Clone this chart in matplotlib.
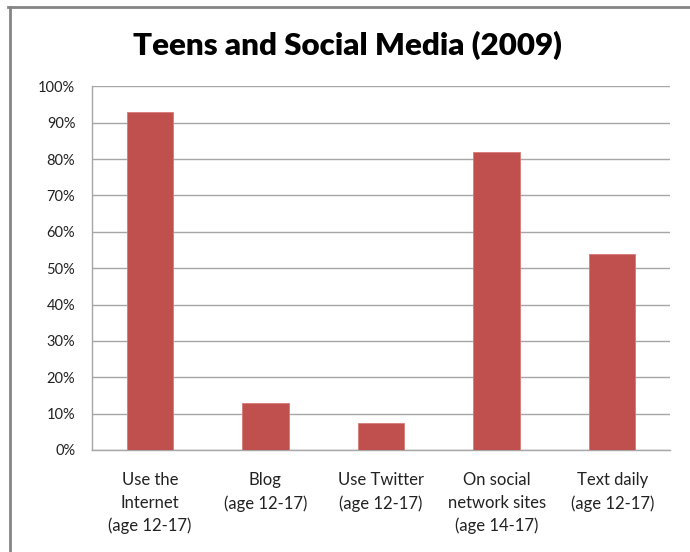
import matplotlib.pyplot as plt
from matplotlib.lines import Line2D
from matplotlib.ticker import PercentFormatter

# Pew survey shares (percent of teens)
categories = ['Use the\nInternet\n(age 12-17)', 'Blog\n(age 12-17)', 'Use Twitter\n(age 12-17)',
              'On social\nnetwork sites\n(age 14-17)', 'Text daily\n(age 12-17)']
values = [93, 13, 7.3, 82, 54]
yticks = list(range(0, 101, 10))

plt.rcParams['font.family'] = ['Lato', 'DejaVu Sans']

fig = plt.figure(figsize=(6.9, 5.52), dpi=100)
ax = fig.add_axes([0.1333, 0.1848, 0.8377, 0.6587])

grid_col = '#a6a6a6'
ax.bar(range(len(values)), values, width=0.4, color='#c0504d', edgecolor='#d77a77',
       linewidth=0.6, zorder=3)
ax.set_xlim(-0.5, len(values) - 0.5)
ax.set_ylim(0, 100)
ax.set_yticks(yticks)
ax.yaxis.set_major_formatter(PercentFormatter(decimals=0))
ax.set_xticks(range(len(values)))
ax.set_xticklabels(categories, fontsize=12, linespacing=1.5, va='top')
ax.tick_params(axis='y', length=0, pad=12, labelsize=10.5, labelcolor='#222222')
ax.tick_params(axis='x', length=0, pad=16, labelcolor='#222222')
ax.grid(axis='y', color=grid_col, linewidth=1, zorder=0)
for side in ['top', 'right']:
    ax.spines[side].set_visible(False)
for side in ['left', 'bottom']:
    ax.spines[side].set_color(grid_col)
    ax.spines[side].set_linewidth(1)

fig.text(0.504, 0.918, 'Teens and Social Media (2009)', ha='center', va='center',
         fontsize=22.5, fontweight='heavy')

# outer chart border (top and left edges only visible)
fig.add_artist(Line2D([8 / 690, 1], [1 - 7 / 552, 1 - 7 / 552], color='#858585', linewidth=2,
                      transform=fig.transFigure))
fig.add_artist(Line2D([10 / 690, 10 / 690], [0, 1 - 7 / 552], color='#858585', linewidth=2,
                      transform=fig.transFigure))

fig.savefig('out.png', dpi=100)
